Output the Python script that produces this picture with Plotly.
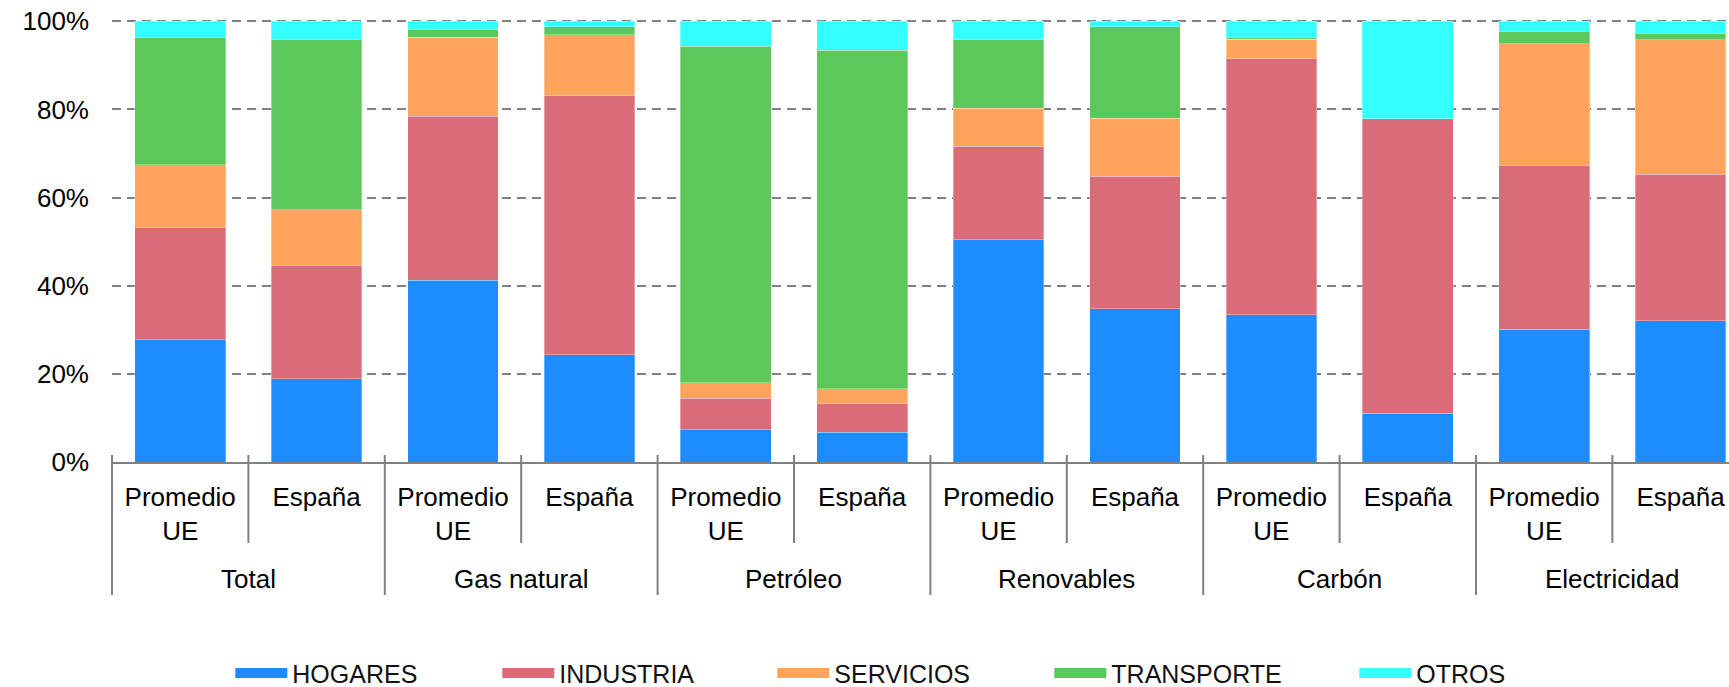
import plotly.graph_objects as go

# Final energy consumption by sector, share of each fuel (EU average vs Spain)
fuels = ["Total", "Gas natural", "Petróleo", "Renovables", "Carbón", "Electricidad"]
regions = ["Promedio<br>UE", "España"]

hogares    = [27.7, 18.9, 41.2, 24.3, 7.3, 6.8, 50.4, 34.8, 33.4, 11.1, 30.1, 32.0]
industria  = [25.6, 25.7, 37.3, 58.9, 7.2, 6.4, 21.3, 30.1, 58.1, 66.8, 37.2, 33.3]
servicios  = [14.1, 12.6, 17.9, 13.8, 3.5, 3.4, 8.6, 13.1, 4.4, 0.0, 27.6, 30.5]
transporte = [28.9, 38.6, 1.8, 1.8, 76.3, 76.8, 15.5, 20.8, 0.4, 0.0, 2.8, 1.5]
otros      = [3.7, 4.2, 1.8, 1.2, 5.7, 6.6, 4.2, 1.2, 3.7, 22.1, 2.3, 2.7]

sectors = ["HOGARES", "INDUSTRIA", "SERVICIOS", "TRANSPORTE", "OTROS"]
colors = ["#1E8CFF", "#DA6C79", "#FFA35D", "#5CC85C", "#33FFFF"]
legend_widths = [200, 208, 210, 238, 120]

# one category per (fuel, region) pair
keys = [f"{f}|{r}" for f in fuels for r in regions]
inner_text = [r for _ in fuels for r in regions]

X_MAX = 11.355          # visible category range ends inside the last group
Y_MAX = 100.3
PLOT_H = 687 - 20 - 225  # plot-area height in px

fig = go.Figure()
for name, vals, col in zip(sectors, [hogares, industria, servicios, transporte, otros], colors):
    fig.add_trace(go.Bar(
        x=keys, y=vals, name=name,
        marker=dict(color=col, line=dict(color="rgba(255,255,255,0.45)", width=0.7)),
        showlegend=False,
    ))

# legend entries drawn as wide swatches
for name, col, lw in zip(sectors, colors, legend_widths):
    fig.add_trace(go.Scatter(
        x=[keys[0]], y=[None], mode="lines", name=name,
        line=dict(color=col, width=12), legendwidth=lw, hoverinfo="skip",
    ))

grey = "#808080"

# group (fuel) labels under the region labels
n_reg = len(regions)
annotations = []
for i, f in enumerate(fuels):
    annotations.append(dict(
        x=i * n_reg + (n_reg - 1) / 2, xref="x", y=-117 / PLOT_H, yref="paper",
        text=f, showarrow=False, yanchor="middle", xanchor="center",
        font=dict(size=26, color="black"),
    ))

# boundary ticks: short between regions, long between fuels
shapes = []
for k in range(len(keys)):
    b = k - 0.5
    if b > X_MAX:
        break
    xp = (b + 0.5) / (X_MAX + 0.5)
    depth = 133 if k % n_reg == 0 else 81
    shapes.append(dict(
        type="line", xref="paper", yref="paper",
        x0=xp, x1=xp, y0=7 / PLOT_H, y1=-depth / PLOT_H,
        line=dict(color=grey, width=2),
    ))

fig.update_layout(
    barmode="stack",
    bargap=0.335,
    width=1729, height=687,
    margin=dict(l=112, r=0, t=20, b=225),
    paper_bgcolor="white", plot_bgcolor="white",
    font=dict(family="Liberation Sans, Arial, sans-serif", size=26, color="black"),
    showlegend=True,
    legend=dict(
        orientation="h", xref="container", yref="container",
        x=0.1332, xanchor="left", y=0.02, yanchor="middle",
        itemwidth=52, font=dict(size=25, color="#111111"),
        bgcolor="rgba(0,0,0,0)", tracegroupgap=0, traceorder="normal",
    ),
    annotations=annotations,
    shapes=shapes,
)
fig.update_xaxes(
    type="category",
    categoryorder="array", categoryarray=keys,
    tickvals=keys, ticktext=inner_text,
    range=[-0.5, X_MAX],
    showline=True, linecolor=grey, linewidth=2,
    ticks="", showgrid=False,
    ticklabelstandoff=11, tickfont=dict(size=26),
)
fig.update_yaxes(
    range=[0, Y_MAX],
    tickvals=[0, 20, 40, 60, 80, 100],
    ticktext=["0%", "20%", "40%", "60%", "80%", "100%"],
    showgrid=True, gridcolor=grey, gridwidth=2, griddash="9px,6px",
    zeroline=False, showline=False, ticks="",
    ticklabelstandoff=22, tickfont=dict(size=26),
)

fig.write_html("out.html")
